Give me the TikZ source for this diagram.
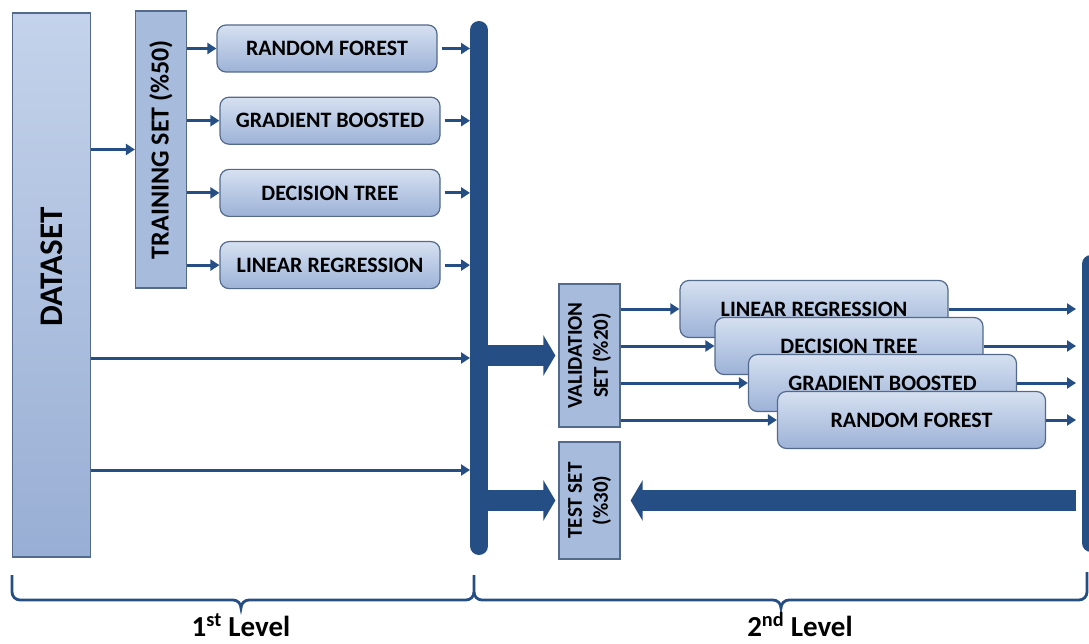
\documentclass[tikz,border=0pt]{standalone}
\usepackage{fontspec}
\setmainfont{Carlito}
\usetikzlibrary{positioning,arrows.meta}
\definecolor{navy}{RGB}{37,78,133}
\definecolor{edge}{RGB}{84,106,140}
\definecolor{flat}{RGB}{167,188,221}
\definecolor{lite}{RGB}{214,225,241}
\definecolor{dark}{RGB}{156,178,215}
\definecolor{dstop}{RGB}{196,211,235}
\definecolor{dsbot}{RGB}{152,174,212}

\begin{document}
\begin{tikzpicture}[x=1pt,y=-1pt,
			setbox/.style={draw=edge,line width=1.2pt,fill=flat,inner sep=0pt,align=center,font=\bfseries\fontsize{21}{26}\selectfont},
			model/.style={draw=edge,line width=1.2pt,rounded corners=9pt,top color=lite,bottom color=dark,minimum width=220pt,minimum height=47pt,inner sep=0pt,font=\bfseries\fontsize{22}{26}\selectfont},
			stack/.style={model,minimum width=268pt,minimum height=57pt},
			link/.style={navy,line width=3pt,-{Triangle[length=9pt,width=11pt]}},
			fat/.style={navy,line width=21pt,-{Triangle[length=12pt,width=40pt]}},
			bar/.style={navy,line width=18pt,line cap=round},
			brace/.style={navy,line width=2.8pt}]
			\useasboundingbox (0,0) rectangle (1089,644);
			\clip (0,0) rectangle (1089,644);

			\node (dataset) [setbox,top color=dstop,bottom color=dsbot,minimum width=78pt,minimum height=544pt] at (51.5,285) {};
			\node (dstext) [rotate=90,font=\bfseries\fontsize{33}{36}\selectfont] at (51.5,267) {DATASET};
			\node (train) [setbox,rotate=90,minimum width=277pt,minimum height=51pt,font=\bfseries\fontsize{26}{30}\selectfont] at (161,149.5) {TRAINING SET (\%50)};

			\node (rf1) [model] at (327,48.5) {RANDOM FOREST};
			\node (gb1) [model,below=24pt of rf1,xshift=3pt] {GRADIENT BOOSTED};
			\node (dt1) [model,below=24pt of gb1] {DECISION TREE};
			\node (lr1) [model,below=24pt of dt1] {LINEAR REGRESSION};

			\coordinate (b1top) at (479,30);
			\coordinate (b1bot) at (479,546);
			\coordinate (b1in) at (470,0);
			\coordinate (b1out) at (488,0);
			\coordinate (d1) at (470,358);
			\coordinate (d2) at (470,470);
			\draw[bar] (b1top) -- (b1bot);

			\node (val) [setbox,rotate=90,minimum width=143pt,minimum height=61pt] at (589.5,355.5) {VALIDATION\\SET (\%20)};
			\node (test) [setbox,rotate=90,minimum width=117pt,minimum height=61pt] at (589.5,500.5) {TEST SET\\(\%30)};

			\node (lr2) [stack] at (814,309) {LINEAR REGRESSION};
			\node (dt2) [stack] at (849,346) {DECISION TREE};
			\node (gb2) [stack] at (882.5,383) {GRADIENT BOOSTED};
			\node (rf2) [stack] at (911.5,420) {RANDOM FOREST};

			\coordinate (b2top) at (1091,264);
			\coordinate (b2bot) at (1091,543);
			\coordinate (b2in) at (1076,0);
			\draw[bar] (b2top) -- (b2bot);

			\draw[link] (dataset.east |- train.center) -- (train.north);
			\draw[link] (train.south |- rf1) -- (rf1.west);
			\draw[link] (train.south |- gb1) -- (gb1.west);
			\draw[link] (train.south |- dt1) -- (dt1.west);
			\draw[link] (train.south |- lr1) -- (lr1.west);
			\draw[link] ([xshift=4pt]rf1.east) -- (rf1.east -| b1in);
			\draw[link] ([xshift=4pt]gb1.east) -- (gb1.east -| b1in);
			\draw[link] ([xshift=4pt]dt1.east) -- (dt1.east -| b1in);
			\draw[link] ([xshift=4pt]lr1.east) -- (lr1.east -| b1in);
			\draw[link] (dataset.east |- d1) -- (d1);
			\draw[link] (dataset.east |- d2) -- (d2);

			\draw[fat] (val.north -| b1out) -- ([xshift=-3pt]val.north);
			\draw[fat] (test.north -| b1out) -- ([xshift=-3pt]test.north);
			\draw[fat] (test.south -| b2in) -- ([xshift=10pt]test.south);

			\draw[link] (val.south |- lr2) -- (lr2.west);
			\draw[link] (val.south |- dt2) -- (dt2.west);
			\draw[link] (val.south |- gb2) -- (gb2.west);
			\draw[link] (val.south |- rf2) -- (rf2.west);
			\draw[link] (lr2.east) -- (lr2.east -| b2in);
			\draw[link] (dt2.east) -- (dt2.east -| b2in);
			\draw[link] (gb2.east) -- (gb2.east -| b2in);
			\draw[link] (rf2.east) -- (rf2.east -| b2in);

			\draw[brace] (12,575) -- (12,592) to[out=-90,in=180] (20,600) -- (233,600) to[out=0,in=90] (241,608) to[out=90,in=180] (249,600) -- (466,600) to[out=0,in=-90] (474,592) -- (474,575);
			\draw[brace] (474,592) to[out=-90,in=180] (482,600) -- (773,600) to[out=0,in=90] (781,608) to[out=90,in=180] (789,600) -- (1079,600) to[out=0,in=-90] (1087,592) -- (1087,572);

			\node (lvl1) [anchor=base,inner sep=0pt,font=\bfseries\fontsize{29}{32}\selectfont] at (241,636) {1\textsuperscript{st} Level};
			\node (lvl2) [anchor=base,inner sep=0pt,font=\bfseries\fontsize{29}{32}\selectfont] at (800,636) {2\textsuperscript{nd} Level};
		\end{tikzpicture}
\end{document}
